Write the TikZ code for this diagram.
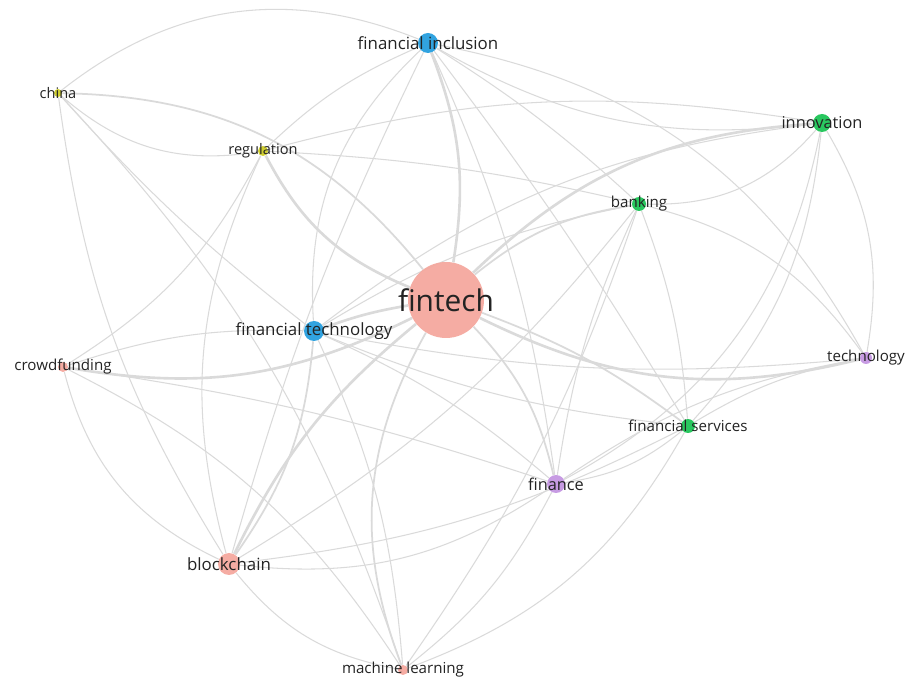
\documentclass[tikz,border=0pt]{standalone}
\usepackage{fontspec}
\setmainfont{Open Sans}
\usepackage{tikz}
\usepackage{xcolor}
\definecolor{kwpink}{RGB}{244,168,158}
\definecolor{kwblue}{RGB}{38,158,222}
\definecolor{kwgreen}{RGB}{30,196,86}
\definecolor{kwyellow}{RGB}{206,204,40}
\definecolor{kwpurple}{RGB}{196,150,226}
\definecolor{kwlink}{RGB}{218,218,218}
\definecolor{kwtext}{RGB}{35,35,35}
\pgfdeclarelayer{edges}
\pgfsetlayers{edges,main}
\tikzset{
    kwnode/.style={circle, inner sep=0pt, fill opacity=0.95},
    pinknode/.style={kwnode, fill=kwpink},
    bluenode/.style={kwnode, fill=kwblue},
    greennode/.style={kwnode, fill=kwgreen},
    yellownode/.style={kwnode, fill=kwyellow},
    purplenode/.style={kwnode, fill=kwpurple},
    kwlabel/.style={text=kwtext, inner sep=0pt, font=\fontsize{8.6}{10}\selectfont},
    biglabel/.style={kwlabel, font=\fontsize{9.6}{11}\selectfont},
    link/.style={draw=kwlink, line width=0.6pt},
    boldlink/.style={link, line width=1.5pt}
}

\begin{document}
\begin{tikzpicture}
    \useasboundingbox (0,0) rectangle (18.2,-13.6);
    % keywords
    \node[pinknode, minimum size=1.52cm] (fintech) at (8.92,-6.00) {};
    \node[bluenode, minimum size=0.40cm] (fininc) at (8.56,-0.86) {};
    \node[yellownode, minimum size=0.16cm] (china) at (1.16,-1.86) {};
    \node[yellownode, minimum size=0.20cm] (regul) at (5.26,-3.02) {};
    \node[greennode, minimum size=0.36cm] (innov) at (16.44,-2.46) {};
    \node[greennode, minimum size=0.28cm] (bank) at (12.78,-4.08) {};
    \node[bluenode, minimum size=0.40cm] (fintechn) at (6.28,-6.62) {};
    \node[pinknode, minimum size=0.20cm] (crowd) at (1.26,-7.34) {};
    \node[purplenode, minimum size=0.24cm] (techn) at (17.32,-7.16) {};
    \node[greennode, minimum size=0.28cm] (finserv) at (13.76,-8.52) {};
    \node[purplenode, minimum size=0.36cm] (finance) at (11.12,-9.68) {};
    \node[pinknode, minimum size=0.44cm] (chain) at (4.58,-11.28) {};
    \node[pinknode, minimum size=0.20cm] (mlearn) at (8.06,-13.40) {};

    \begin{pgfonlayer}{edges}
    % links of fintech
    \draw[boldlink] (fintech) to[bend right=15] (fininc);
    \draw[boldlink] (regul) to[bend right=20] (fintech);
    \draw[link, line width=1pt] (china) to[bend left=25] (fintech);
    \draw[boldlink] (fintech) to[bend left=20] (innov);
    \draw[link, line width=1pt] (fintech) to[bend left=15] (bank);
    \draw[boldlink] (fintech) to[bend right=20] (techn);
    \draw[link, line width=1pt] (fintech) to[bend left=8] (finserv);
    \draw[link, line width=1pt] (fintech) to[bend left=15] (finance);
    \draw[boldlink] (chain) to[bend left=12] (fintech);
    \draw[boldlink] (crowd) to[bend right=18] (fintech);
    \draw[link, line width=1pt] (fintech) to[bend right=25] (mlearn);
    \draw[boldlink] (fintechn) to[bend left=5] (fintech);
    % links of financial inclusion
    \draw[link] (china) to[bend left=30] (fininc);
    \draw[link] (fininc) to[bend right=25] (fintechn);
    \draw[link] (fininc) to[bend right=10] (regul);
    \draw[link] (fininc) to[bend left=5] (bank);
    \draw[link] (fininc) to[bend left=3] (finserv);
    \draw[link] (fininc) to[bend left=25] (techn);
    \draw[link] (fininc) to[bend right=18] (innov);
    \draw[link] (fininc) to[bend left=8] (finance);
    \draw[link] (fininc) to[bend right=5] (chain);
    % links of regulation
    \draw[link] (china) to[bend right=25] (regul);
    \draw[link] (regul) to[bend right=20] (chain);
    \draw[link] (regul) to[bend left=15] (crowd);
    \draw[link] (regul) to[bend left=12] (innov);
    \draw[link] (regul) to[bend left=5] (bank);
    % links of innovation
    \draw[link] (bank) to[bend right=25] (innov);
    \draw[link] (fintechn) to[bend left=15] (innov);
    \draw[link] (innov) to[bend left=20] (techn);
    \draw[link] (innov) to[bend left=18] (finserv);
    \draw[link] (innov) to[bend left=25] (finance);
    % links of banking
    \draw[link] (bank) to[bend left=20] (techn);
    \draw[link] (bank) to[bend left=8] (finserv);
    \draw[link] (bank) to[bend right=8] (finance);
    \draw[link] (chain) to[bend right=10] (bank);
    \draw[link] (bank) to[bend left=8] (mlearn);
    \draw[link] (fintechn) to[bend left=10] (bank);
    % links of technology
    \draw[link] (techn) to[bend right=10] (finserv);
    \draw[link] (fintechn) to[bend right=8] (techn);
    \draw[link] (finance) to[bend left=12] (techn);
    % links of financial services and finance
    \draw[link] (finance) to[bend right=15] (finserv);
    \draw[link] (fintechn) to[bend right=8] (finserv);
    \draw[link] (mlearn) to[bend right=20] (finserv);
    \draw[link] (chain) to[bend right=10] (finserv);
    \draw[link] (chain) to[bend right=20] (finance);
    \draw[link] (fintechn) to[bend left=8] (finance);
    \draw[link] (mlearn) to[bend right=12] (finance);
    \draw[link] (crowd) to[bend left=5] (finance);
    % links of financial technology
    \draw[link] (china) to[bend right=5] (fintechn);
    \draw[link, line width=1pt] (fintechn) to[bend left=15] (chain);
    \draw[link] (crowd) to[bend left=10] (fintechn);
    \draw[link] (fintechn) to[bend left=10] (mlearn);
    % links of crowdfunding, blockchain, china
    \draw[link] (crowd) to[bend right=25] (chain);
    \draw[link] (crowd) to[bend left=15] (mlearn);
    \draw[link] (chain) to[bend right=20] (mlearn);
    \draw[link] (china) to[bend right=12] (chain);
    \draw[link] (china) to[bend left=12] (mlearn);
    \end{pgfonlayer}

    % labels
    \node[kwlabel, font=\fontsize{17}{20}\selectfont] (fintech-t) at (fintech) {fintech};
    \node[biglabel] (fininc-t) at (fininc) {financial inclusion};
    \node[kwlabel, font=\fontsize{8.3}{10}\selectfont] (china-t) at (china) {china};
    \node[kwlabel, font=\fontsize{8.3}{10}\selectfont] (regul-t) at (regul) {regulation};
    \node[kwlabel, font=\fontsize{9.3}{11}\selectfont] (innov-t) at (innov) {innovation};
    \node[kwlabel] (bank-t) at (bank) {banking};
    \node[biglabel] (fintechn-t) at (fintechn) {financial technology};
    \node[kwlabel] (crowd-t) at (crowd) {crowdfunding};
    \node[kwlabel] (techn-t) at (techn) {technology};
    \node[kwlabel] (finserv-t) at (finserv) {financial services};
    \node[kwlabel, font=\fontsize{9.3}{11}\selectfont] (finance-t) at (finance) {finance};
    \node[biglabel] (chain-t) at (chain) {blockchain};
    \node[kwlabel] (mlearn-t) at (mlearn) {machine learning};
\end{tikzpicture}
\end{document}
